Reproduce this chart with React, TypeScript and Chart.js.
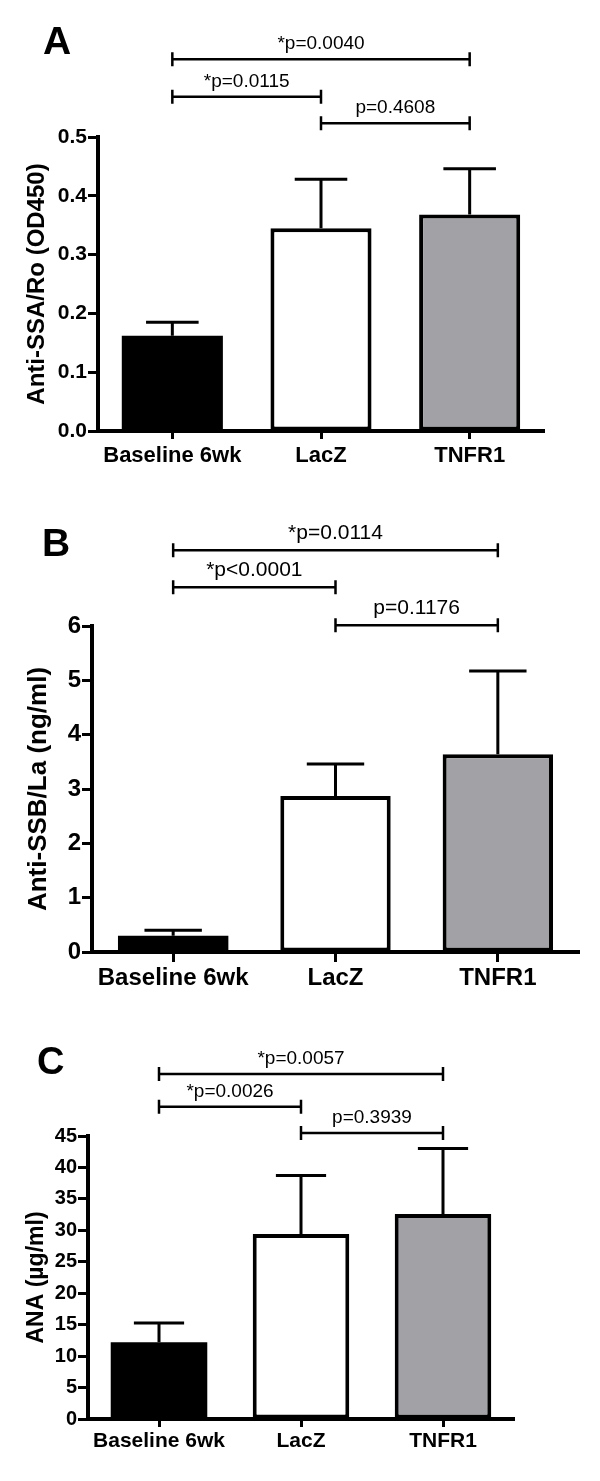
import React, { useEffect, useRef } from "react";
import { Chart, registerables } from "chart.js";

Chart.register(...registerables);

// ---------- data ----------
const categories = ["Baseline 6wk", "LacZ", "TNFR1"];
const barColors = ["#000000", "#ffffff", "#a2a1a6"];

const ssaMeans = [0.162, 0.345, 0.368];
const ssaErrors = [0.023, 0.083, 0.078];
const ssaComparisons = [
  { from: 0, to: 2, label: "*p=0.0040" },
  { from: 0, to: 1, label: "*p=0.0115" },
  { from: 1, to: 2, label: "p=0.4608" },
];

const ssbMeans = [0.3, 2.87, 3.64];
const ssbErrors = [0.1, 0.59, 1.53];
const ssbComparisons = [
  { from: 0, to: 2, label: "*p=0.0114" },
  { from: 0, to: 1, label: "*p<0.0001" },
  { from: 1, to: 2, label: "p=0.1176" },
];

const anaMeans = [12.2, 29.4, 32.6];
const anaErrors = [3.05, 9.3, 10.4];
const anaComparisons = [
  { from: 0, to: 2, label: "*p=0.0057" },
  { from: 0, to: 1, label: "*p=0.0026" },
  { from: 1, to: 2, label: "p=0.3939" },
];

const FAMILY = "'Liberation Sans', Arial, Helvetica, sans-serif";

type Comparison = { from: number; to: number; label: string };
type PanelSpec = {
  letter: string;
  title: string;
  means: number[];
  errors: number[];
  comparisons: Comparison[];
  yMax: number;
  yStep: number;
  decimals: number;
  top: number;
  height: number;
  left: number;
  right: number;
  plotTop: number;
  plotBottom: number;
  brackets: number[];
  textGap: number;
  letterX: number;
  letterBaseline: number;
  letterSize: number;
  pSize: number;
  yTickSize: number;
  xTickSize: number;
  titleSize: number;
  titlePad: number;
  xTickLen: number;
  xTickPad: number;
};

const panels: PanelSpec[] = [
  {
    letter: "A",
    title: "Anti-SSA/Ro (OD450)",
    means: ssaMeans,
    errors: ssaErrors,
    comparisons: ssaComparisons,
    yMax: 0.5,
    yStep: 0.1,
    decimals: 1,
    top: 0,
    height: 470,
    left: 98,
    right: 544,
    plotTop: 137,
    plotBottom: 431,
    brackets: [-77.7, -40.3, -13.7],
    textGap: 10,
    letterX: 43,
    letterBaseline: 54,
    letterSize: 39,
    pSize: 19,
    yTickSize: 21,
    xTickSize: 22,
    titleSize: 24,
    titlePad: 23,
    xTickLen: 8,
    xTickPad: 4,
  },
  {
    letter: "B",
    title: "Anti-SSB/La (ng/ml)",
    means: ssbMeans,
    errors: ssbErrors,
    comparisons: ssbComparisons,
    yMax: 6,
    yStep: 1,
    decimals: 0,
    top: 470,
    height: 525,
    left: 92,
    right: 579,
    plotTop: 156,
    plotBottom: 482,
    brackets: [-75.7, -38.7, -0.7],
    textGap: 11,
    letterX: 42,
    letterBaseline: 86,
    letterSize: 39,
    pSize: 21,
    yTickSize: 24,
    xTickSize: 24,
    titleSize: 26,
    titlePad: 23,
    xTickLen: 10,
    xTickPad: 2,
  },
  {
    letter: "C",
    title: "ANA (\u00B5g/ml)",
    means: anaMeans,
    errors: anaErrors,
    comparisons: anaComparisons,
    yMax: 45,
    yStep: 5,
    decimals: 0,
    top: 995,
    height: 486,
    left: 88,
    right: 514,
    plotTop: 141,
    plotBottom: 424,
    brackets: [-62, -29.3, -3],
    textGap: 10,
    letterX: 37,
    letterBaseline: 79,
    letterSize: 38,
    pSize: 19,
    yTickSize: 20,
    xTickSize: 21,
    titleSize: 23,
    titlePad: 23,
    xTickLen: 8,
    xTickPad: 2,
  },
];

function Panel({ spec }: { spec: PanelSpec }) {
  const ref = useRef<HTMLCanvasElement | null>(null);

  useEffect(() => {
    const canvas = ref.current;
    if (!canvas) return;

    const errorBars = {
      id: "errorBars",
      afterDatasetsDraw(chart: any) {
        const ctx = chart.ctx;
        const yScale = chart.scales.y;
        const meta = chart.getDatasetMeta(0);
        ctx.save();
        ctx.strokeStyle = "#000";
        ctx.lineWidth = 3;
        meta.data.forEach((bar: any, i: number) => {
          const { x, width } = bar.getProps(["x", "width"], true);
          const yBase = yScale.getPixelForValue(spec.means[i]);
          const yTop = yScale.getPixelForValue(spec.means[i] + spec.errors[i]);
          const cap = width * 0.52;
          ctx.beginPath();
          ctx.moveTo(x, yBase);
          ctx.lineTo(x, yTop);
          ctx.moveTo(x - cap / 2, yTop);
          ctx.lineTo(x + cap / 2, yTop);
          ctx.stroke();
        });
        ctx.restore();
      },
    };

    const annotations = {
      id: "annotations",
      afterDraw(chart: any) {
        const ctx = chart.ctx;
        const xScale = chart.scales.x;
        const top = chart.chartArea.top;
        ctx.save();
        ctx.strokeStyle = "#000";
        ctx.fillStyle = "#000";
        spec.comparisons.forEach((c, k) => {
          const yLine = top + spec.brackets[k];
          const x1 = xScale.getPixelForValue(c.from);
          const x2 = xScale.getPixelForValue(c.to);
          ctx.lineWidth = 2.5;
          ctx.beginPath();
          ctx.moveTo(x1, yLine);
          ctx.lineTo(x2, yLine);
          ctx.moveTo(x1, yLine - 7);
          ctx.lineTo(x1, yLine + 7);
          ctx.moveTo(x2, yLine - 7);
          ctx.lineTo(x2, yLine + 7);
          ctx.stroke();
          ctx.font = `${spec.pSize}px ${FAMILY}`;
          ctx.textAlign = "center";
          ctx.textBaseline = "alphabetic";
          ctx.fillText(c.label, (x1 + x2) / 2, yLine - spec.textGap);
        });
        ctx.font = `bold ${spec.letterSize}px ${FAMILY}`;
        ctx.textAlign = "left";
        ctx.textBaseline = "alphabetic";
        ctx.fillText(spec.letter, spec.letterX, spec.letterBaseline);
        ctx.restore();
      },
    };

    const chart = new Chart(canvas, {
      type: "bar",
      data: {
        labels: categories,
        datasets: [
          {
            data: spec.means,
            backgroundColor: barColors,
            borderColor: "#000",
            borderWidth: [0, 4, 4],
            borderSkipped: false,
            barPercentage: 0.68,
            categoryPercentage: 1,
          },
        ],
      },
      options: {
        responsive: false,
        animation: false,
        devicePixelRatio: 1,
        layout: {
          padding: {
            left: 0,
            right: 600 - spec.right,
            top: spec.plotTop,
            bottom: 0,
          },
        },
        plugins: {
          legend: { display: false },
          tooltip: { enabled: false },
          title: { display: false },
        },
        scales: {
          x: {
            type: "category",
            offset: true,
            grid: {
              offset: false,
              drawOnChartArea: false,
              drawTicks: true,
              tickLength: spec.xTickLen,
              tickWidth: 3,
              tickColor: "#000",
            },
            border: { display: true, color: "#000", width: 4 },
            ticks: {
              color: "#000",
              padding: spec.xTickPad,
              maxRotation: 0,
              autoSkip: false,
              font: { family: FAMILY, size: spec.xTickSize, weight: "bold" },
            },
            afterFit: (s: any) => {
              s.height = spec.height - spec.plotBottom;
            },
          },
          y: {
            min: 0,
            max: spec.yMax,
            grid: {
              drawOnChartArea: false,
              drawTicks: true,
              tickLength: 10,
              tickWidth: 3,
              tickColor: "#000",
            },
            border: { display: true, color: "#000", width: 4 },
            ticks: {
              stepSize: spec.yStep,
              color: "#000",
              padding: 1,
              font: { family: FAMILY, size: spec.yTickSize, weight: "bold" },
              callback: (v: any) => Number(v).toFixed(spec.decimals),
            },
            title: {
              display: true,
              text: spec.title,
              color: "#000",
              font: { family: FAMILY, size: spec.titleSize, weight: "bold" },
              padding: { top: spec.titlePad, bottom: 0 },
            },
            afterFit: (s: any) => {
              s.width = spec.left;
            },
          },
        },
      } as any,
      plugins: [errorBars, annotations],
    });

    return () => chart.destroy();
  }, [spec]);

  return (
    <canvas
      ref={ref}
      width={600}
      height={spec.height}
      style={{
        position: "absolute",
        left: 0,
        top: spec.top,
        width: 600,
        height: spec.height,
        display: "block",
      }}
    />
  );
}

export default function App() {
  return (
    <div
      style={{
        position: "absolute",
        left: 0,
        top: 0,
        width: 600,
        height: 1481,
        background: "#ffffff",
        overflow: "hidden",
      }}
    >
      {panels.map((p) => (
        <Panel key={p.letter} spec={p} />
      ))}
    </div>
  );
}
